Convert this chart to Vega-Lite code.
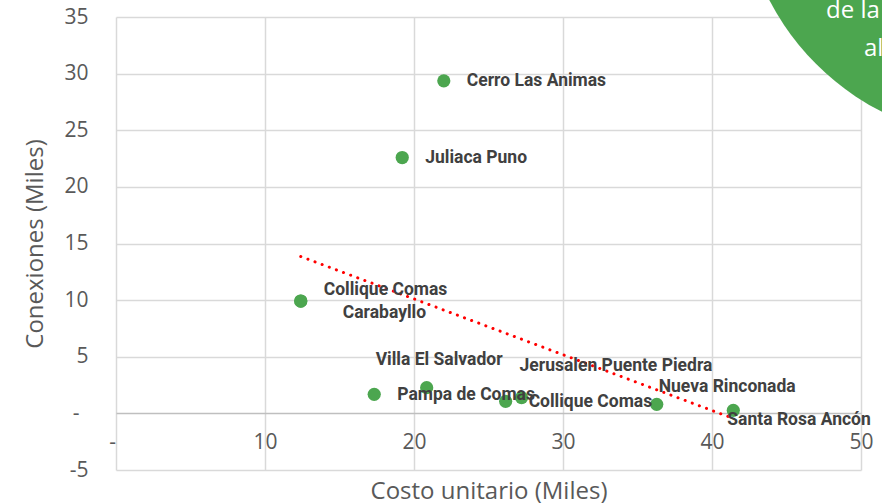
{
  "$schema": "https://vega.github.io/schema/vega-lite/v6.json",
  "width": 745,
  "height": 453,
  "autosize": {"type": "none"},
  "padding": {"left": 116, "top": 17, "right": 21, "bottom": 34},
  "background": "white",
  "config": {"view": {"stroke": null}},
  "datasets": {
    "puntos": [
      {"id": 1, "nombre": "Cerro Las Animas", "costo": 22.0, "conexiones": 29.36},
      {"id": 2, "nombre": "Juliaca Puno", "costo": 19.21, "conexiones": 22.59},
      {"id": 3, "nombre": "Collique Comas", "costo": 12.4, "conexiones": 9.92},
      {"id": 4, "nombre": "Carabayllo", "costo": 12.4, "conexiones": 9.92},
      {"id": 5, "nombre": "Villa El Salvador", "costo": 20.85, "conexiones": 2.27},
      {"id": 6, "nombre": "Pampa de Comas", "costo": 17.33, "conexiones": 1.68},
      {"id": 7, "nombre": "Jerusalen Puente Piedra", "costo": 27.22, "conexiones": 1.39},
      {"id": 8, "nombre": "Collique Comas", "costo": 26.15, "conexiones": 1.06},
      {"id": 9, "nombre": "Nueva Rinconada", "costo": 36.29, "conexiones": 0.8},
      {"id": 10, "nombre": "Santa Rosa Ancón", "costo": 41.43, "conexiones": 0.27}
    ],
    "tendencia": [
      {"costo": 12.4, "conexiones": 13.85},
      {"costo": 41.43, "conexiones": -0.45}
    ],
    "globo": [{"costo": 59.33, "conexiones": 47.08}],
    "globoTexto": [
      {"costo": 47.65, "conexiones": 34.95, "texto": "de la"},
      {"costo": 50.2, "conexiones": 31.6, "texto": "al"}
    ]
  },
  "encoding": {
    "x": {
      "field": "costo",
      "type": "quantitative",
      "scale": {"domain": [0, 50], "nice": false, "zero": false},
      "axis": {
        "values": [0, 10, 20, 30, 40, 50],
        "title": "Costo unitario (Miles)",
        "grid": true,
        "gridColor": "#d9d9d9",
        "gridWidth": 1.5,
        "domain": false,
        "ticks": false,
        "tickSize": 0,
        "labelPadding": -28,
        "labelBaseline": "middle",
        "labelFlush": false,
        "labelOffset": {"condition": {"test": "datum.value === 0", "value": -4}, "value": 0},
        "labelExpr": "datum.value == 0 ? '-' : datum.label",
        "labelFont": "Open Sans",
        "labelFontSize": 21,
        "labelColor": "#595959",
        "titleFont": "Open Sans",
        "titleFontSize": 24,
        "titleFontWeight": "normal",
        "titleColor": "#595959",
        "titleX": 372.5,
        "titleY": 21,
        "titleBaseline": "middle",
        "titleAlign": "center"
      }
    },
    "y": {
      "field": "conexiones",
      "type": "quantitative",
      "scale": {"domain": [-5, 35], "nice": false, "zero": false},
      "axis": {
        "values": [-5, 0, 5, 10, 15, 20, 25, 30, 35],
        "title": "Conexiones (Miles)",
        "grid": true,
        "gridColor": {"condition": {"test": "datum.value === 0", "value": "#bfbfbf"}, "value": "#d9d9d9"},
        "gridWidth": 1.5,
        "domain": false,
        "ticks": false,
        "tickSize": 0,
        "labelPadding": {"condition": {"test": "datum.value === 0", "value": 37}, "value": 28},
        "labelFlush": false,
        "labelExpr": "datum.value == 0 ? '-' : (datum.value < 0 ? '-' + abs(datum.value) : datum.label)",
        "labelFont": "Open Sans",
        "labelFontSize": 21,
        "labelColor": "#595959",
        "titleFont": "Open Sans",
        "titleFontSize": 24,
        "titleFontWeight": "normal",
        "titleColor": "#595959",
        "titleX": -81,
        "titleY": 226.5,
        "titleBaseline": "middle",
        "titleAlign": "center",
        "titleAngle": -90
      }
    }
  },
  "layer": [
    {
      "data": {"name": "tendencia"},
      "mark": {"type": "line", "color": "#ff0000", "strokeWidth": 3, "strokeDash": [0.1, 7.5], "strokeCap": "round"},
      "encoding": {}
    },
    {
      "data": {"name": "puntos"},
      "mark": {"type": "point", "filled": true, "size": 175, "color": "#4CA64F", "opacity": 1}
    },
    {
      "data": {"name": "puntos"},
      "transform": [{"filter": "indexof([1, 2, 6, 8], datum.id) >= 0"}],
      "mark": {"type": "text", "align": "left", "baseline": "middle", "dx": 23, "dy": 0.5, "font": "Roboto", "fontWeight": "bold", "fontSize": 17.5, "color": "#404040"},
      "encoding": {"text": {"field": "nombre"}}
    },
    {
      "data": {"name": "puntos"},
      "transform": [{"filter": "datum.id == 3"}],
      "mark": {"type": "text", "align": "left", "baseline": "middle", "dx": 23, "dy": -11, "font": "Roboto", "fontWeight": "bold", "fontSize": 17.5, "color": "#404040"},
      "encoding": {"text": {"field": "nombre"}}
    },
    {
      "data": {"name": "puntos"},
      "transform": [{"filter": "datum.id == 4"}],
      "mark": {"type": "text", "align": "left", "baseline": "middle", "dx": 42, "dy": 12, "font": "Roboto", "fontWeight": "bold", "fontSize": 17.5, "color": "#404040"},
      "encoding": {"text": {"field": "nombre"}}
    },
    {
      "data": {"name": "puntos"},
      "transform": [{"filter": "datum.id == 5"}],
      "mark": {"type": "text", "align": "left", "baseline": "middle", "dx": -51, "dy": -28, "font": "Roboto", "fontWeight": "bold", "fontSize": 17.5, "color": "#404040"},
      "encoding": {"text": {"field": "nombre"}}
    },
    {
      "data": {"name": "puntos"},
      "transform": [{"filter": "datum.id == 7"}],
      "mark": {"type": "text", "align": "left", "baseline": "middle", "dx": -2, "dy": -32, "font": "Roboto", "fontWeight": "bold", "fontSize": 17.5, "color": "#404040"},
      "encoding": {"text": {"field": "nombre"}}
    },
    {
      "data": {"name": "puntos"},
      "transform": [{"filter": "datum.id == 9"}],
      "mark": {"type": "text", "align": "left", "baseline": "middle", "dx": 2, "dy": -17, "font": "Roboto", "fontWeight": "bold", "fontSize": 17.5, "color": "#404040"},
      "encoding": {"text": {"field": "nombre"}}
    },
    {
      "data": {"name": "puntos"},
      "transform": [{"filter": "datum.id == 10"}],
      "mark": {"type": "text", "align": "left", "baseline": "middle", "dx": -6, "dy": 10, "font": "Roboto", "fontWeight": "bold", "fontSize": 17.5, "color": "#404040"},
      "encoding": {"text": {"field": "nombre"}}
    },
    {
      "data": {"name": "globo"},
      "mark": {"type": "point", "filled": true, "size": 270400, "color": "#4CA64F", "opacity": 1, "clip": false}
    },
    {
      "data": {"name": "globoTexto"},
      "mark": {"type": "text", "align": "left", "baseline": "alphabetic", "font": "Open Sans", "fontSize": 24, "color": "#ffffff"},
      "encoding": {"text": {"field": "texto"}}
    }
  ]
}
